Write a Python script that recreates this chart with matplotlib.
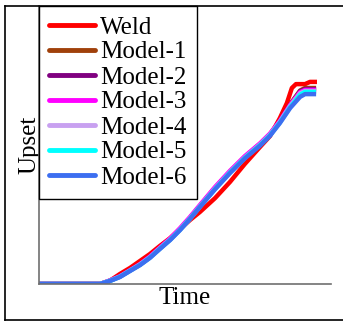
import matplotlib
matplotlib.use('Agg')
import matplotlib.pyplot as plt
from matplotlib.lines import Line2D

plt.rcParams['font.family'] = ['Liberation Serif', 'DejaVu Serif']

# time grid shared by the simulated curves
t_model = [0, 20.9, 24.3, 27.7, 31.2, 34.6, 38.0, 41.4, 44.9, 48.3, 51.7,
           55.1, 60.3, 65.4, 70.5, 75.7, 79.1, 82.5, 86.0, 89.4, 91.1, 94.9]

# measured weld
t_weld = [0, 20.9, 23.6, 27.7, 31.2, 34.6, 38.0, 41.4, 44.9, 48.3, 51.7,
          55.1, 60.3, 65.4, 70.5, 75.7, 79.1, 82.5, 84.9, 86.6, 88.0, 91.1,
          92.8, 95.2]
u_weld = [0, 0, 0.7, 3.6, 5.8, 8.3, 10.8, 13.7, 16.5, 19.8, 23.0,
          25.9, 30.9, 36.7, 43.2, 49.3, 53.2, 59.7, 65.1, 70.5, 71.9, 71.9,
          72.7, 72.7]

u_model1 = [0, 0, 1.2, 2.7, 4.9, 7.1, 9.7, 12.9, 16.1, 19.8, 23.8,
            28.1, 34.6, 40.4, 45.7, 50.4, 53.9, 58.6, 64.6, 69.6, 70.5, 70.5]
u_model2 = [0, 0, 1.2, 2.7, 4.9, 7.0, 9.7, 12.9, 16.1, 19.7, 23.7,
            28.0, 34.5, 40.3, 45.6, 50.3, 53.8, 58.5, 64.4, 69.3, 70.1, 70.1]
u_model3 = [0, 0, 1.3, 2.8, 5.0, 7.2, 9.9, 13.1, 16.4, 20.1, 24.1,
            28.4, 34.9, 40.7, 46.0, 50.6, 54.1, 58.7, 64.4, 69.0, 69.8, 69.8]
u_model4 = [0, 0, 1.2, 2.6, 4.8, 7.0, 9.6, 12.8, 16.0, 19.6, 23.6,
            27.9, 34.4, 40.2, 45.5, 50.2, 53.7, 58.3, 64.0, 68.6, 69.4, 69.4]
u_model5 = [0, 0, 1.1, 2.6, 4.8, 6.9, 9.5, 12.7, 15.9, 19.5, 23.5,
            27.8, 34.2, 40.1, 45.4, 50.0, 53.5, 58.1, 63.6, 68.1, 69.1, 69.1]
u_model6 = [0, 0, 1.1, 2.5, 4.7, 6.8, 9.4, 12.6, 15.8, 19.4, 23.4,
            27.7, 34.1, 39.9, 45.2, 49.8, 53.3, 57.9, 63.3, 67.3, 68.3, 68.3]

labels = ['Weld', 'Model-1', 'Model-2', 'Model-3', 'Model-4', 'Model-5', 'Model-6']
colors = ['#ff0000', '#a0400a', '#800080', '#ff00ff', '#c8a0f0', '#00ffff', '#3c6ef0']

fig = plt.figure(figsize=(3.43, 3.21), dpi=100)
ax = fig.add_axes([39 / 343, 37 / 321, 292 / 343, 278 / 321])

series = [(t_weld, u_weld), (t_model, u_model1), (t_model, u_model2),
          (t_model, u_model3), (t_model, u_model4), (t_model, u_model5),
          (t_model, u_model6)]
for (t, u), lab, c in zip(series, labels, colors):
    ax.plot(t, u, color=c, lw=3.2, label=lab, solid_capstyle='butt')

ax.set_xlim(0, 100)
ax.set_ylim(0, 100)
ax.set_xticks([])
ax.set_yticks([])
for s in ['top', 'right']:
    ax.spines[s].set_visible(False)
for s in ['left', 'bottom']:
    ax.spines[s].set_color('#707070')
    ax.spines[s].set_linewidth(1.2)

ax.set_xlabel('Time', fontsize=18, labelpad=2)
ax.set_ylabel('Upset', fontsize=18, labelpad=-1)

leg = ax.legend(loc='upper left', bbox_to_anchor=(0, 1), borderaxespad=0,
                fancybox=False, edgecolor='black', fontsize=18,
                handlelength=1.85, handletextpad=0.2, labelspacing=0.1,
                borderpad=0.4, framealpha=1)
leg.get_frame().set_linewidth(1)
for h in leg.legend_handles:
    h.set_linewidth(3.5)
    h.set_solid_capstyle('round')

# outer frame of the picture
x0 = 4.5 / 343
ytop = 1 - 6 / 321
ybot = 1 - 319.5 / 321
for xs, ys in [([x0, x0], [ybot, ytop]), ([x0, 1.0], [ytop, ytop]), ([x0, 1.0], [ybot, ybot])]:
    fig.add_artist(Line2D(xs, ys, transform=fig.transFigure, color='black', lw=1.2))

fig.savefig('out.png', dpi=100)
